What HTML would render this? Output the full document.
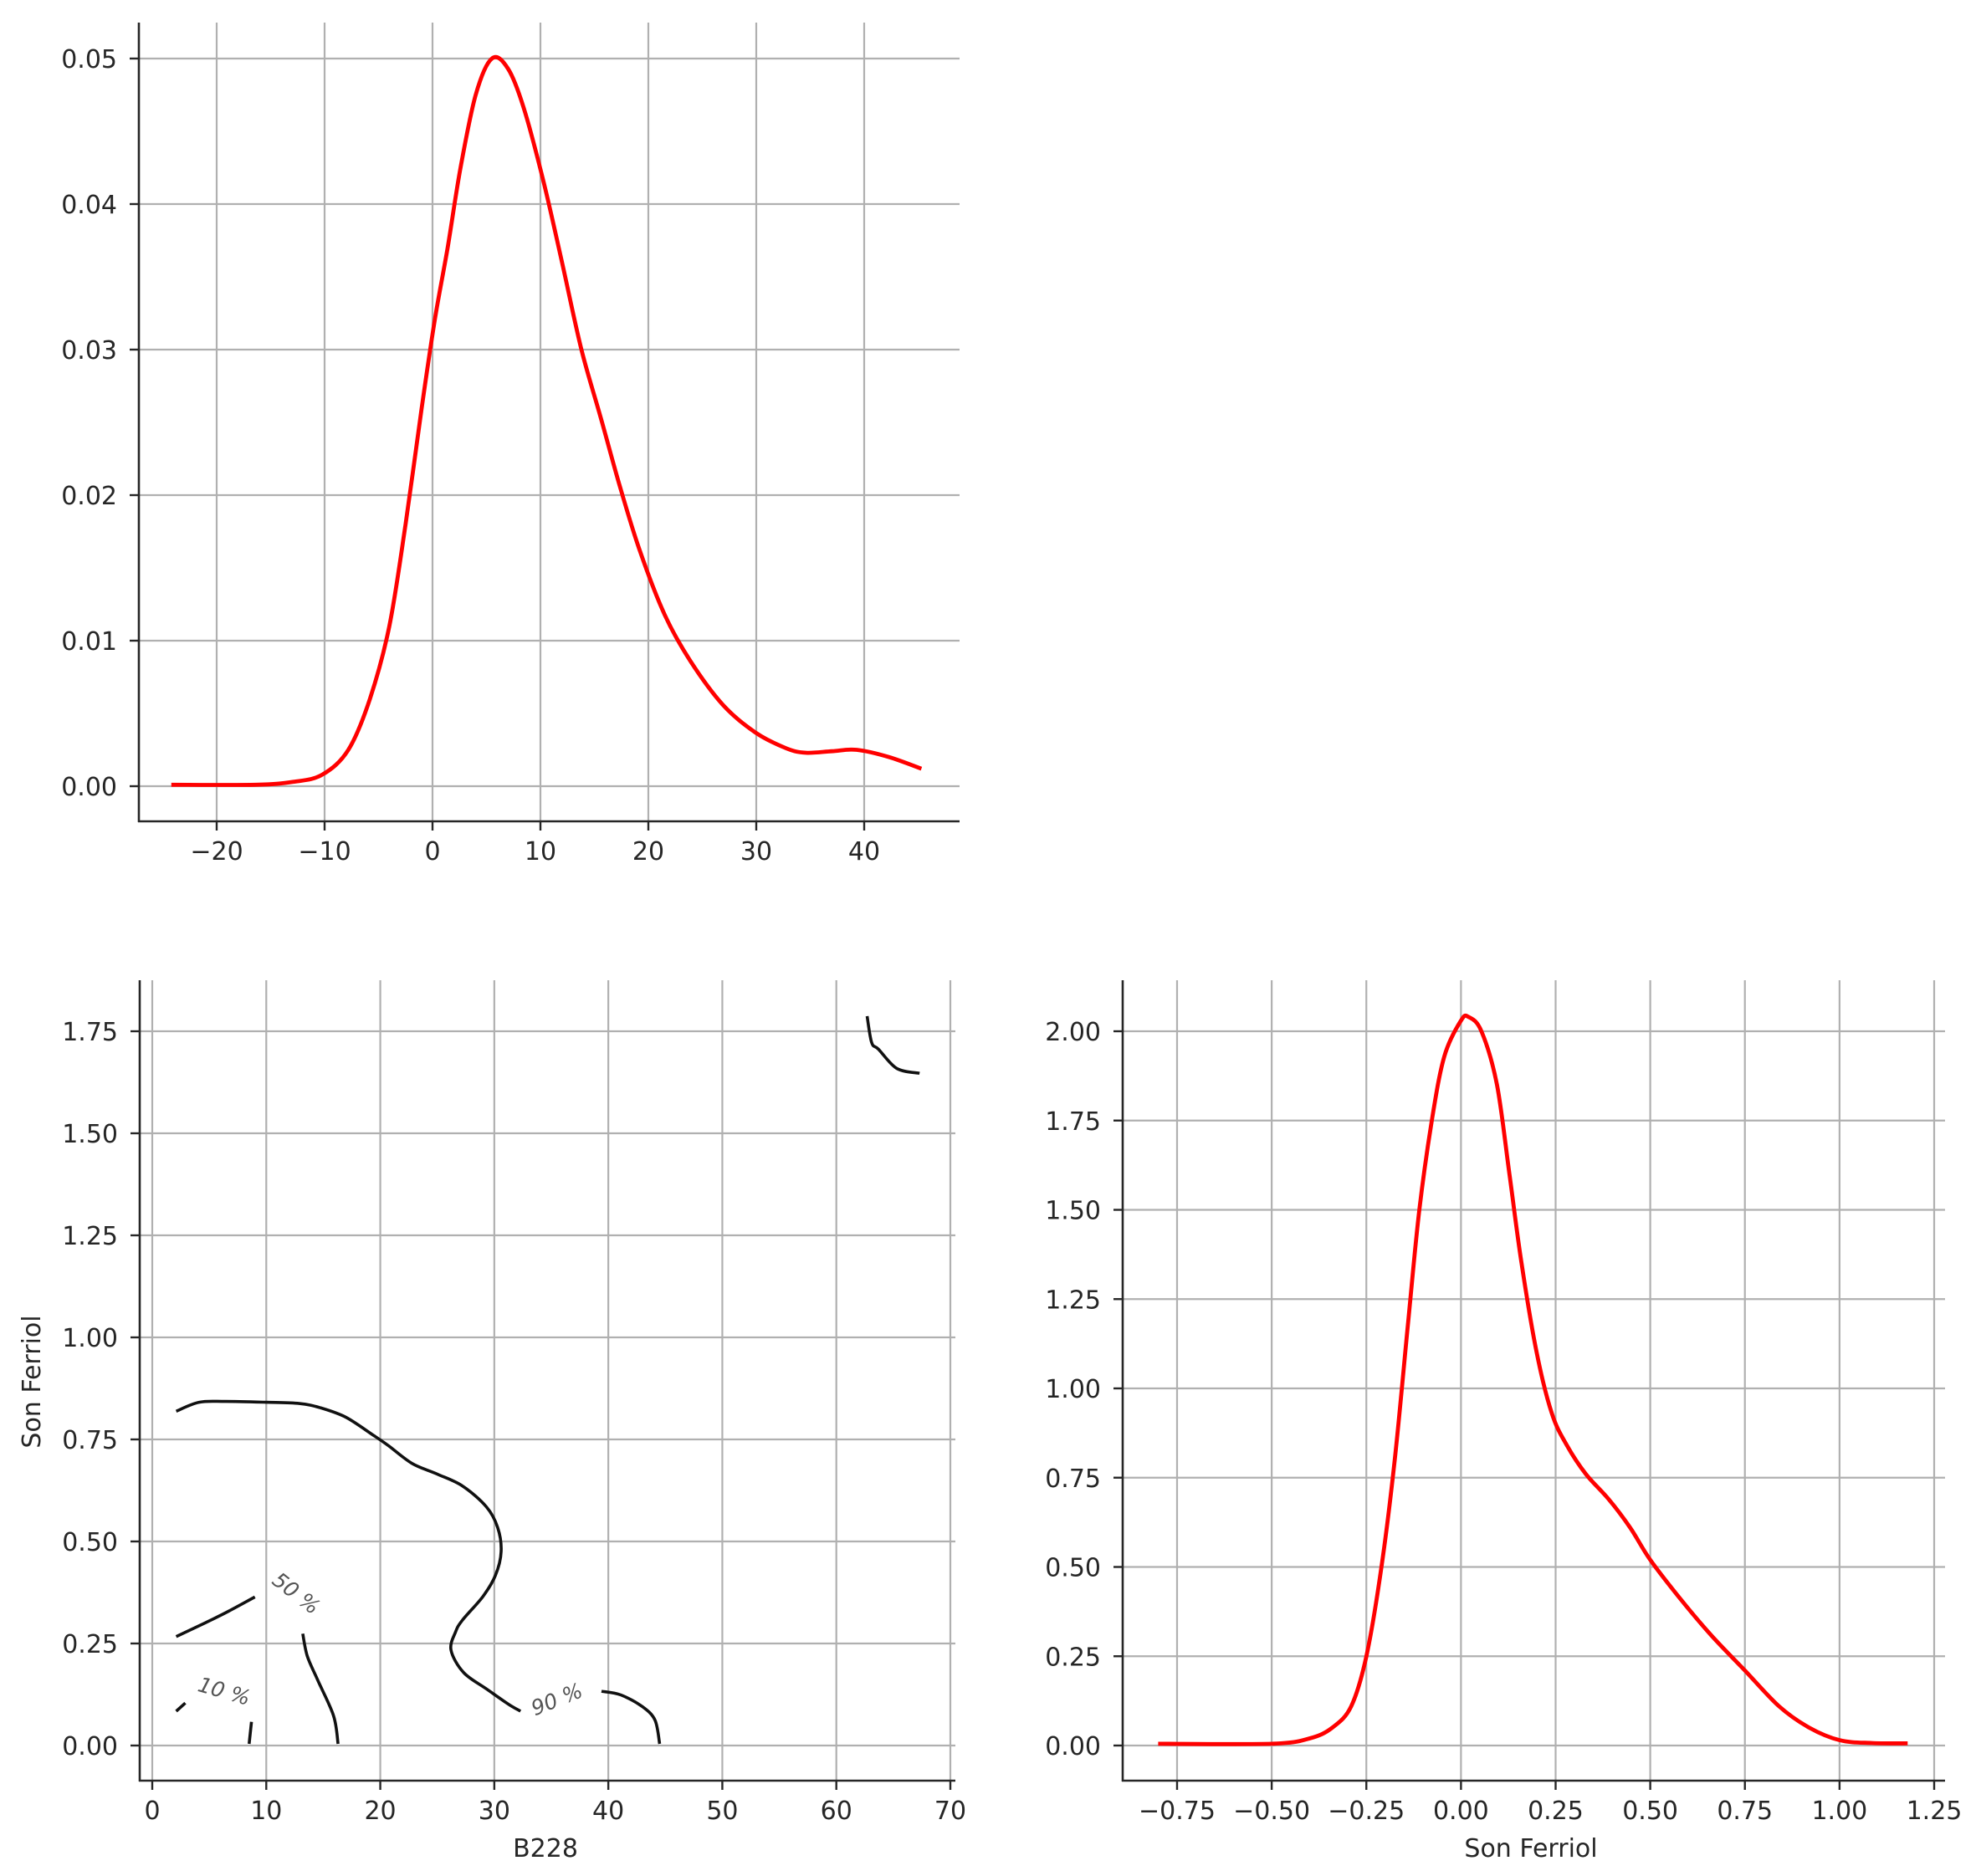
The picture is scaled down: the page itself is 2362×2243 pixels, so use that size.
<!DOCTYPE html>
<html><head><meta charset="utf-8"><style>
html,body{margin:0;padding:0;background:#fff;}
svg{display:block;font-family:"DejaVu Sans","Liberation Sans",sans-serif;}
</style></head><body>
<svg id="fig" width="2362" height="2243" viewBox="0 0 2362 2243" xmlns="http://www.w3.org/2000/svg"></svg>
<script>
// ---- data ----
const topX = [-24.2,-16.4,-12.9,-10.2,-7.8,-5.8,-4.0,-2.5,-1.0,0.2,1.4,2.6,4.0,5.5,7.0,8.5,10.3,12.0,13.8,15.6,17.4,19.2,21.5,23.9,26.9,29.9,32.8,34.6,37.0,39.3,42.3,45.3];
const topY = [0.0001,0.0001,0.0003,0.0008,0.0025,0.006,0.011,0.018,0.026,0.032,0.037,0.0425,0.0475,0.050,0.0493,0.0465,0.0415,0.036,0.030,0.0253,0.0205,0.0162,0.0118,0.0086,0.0056,0.0037,0.0026,0.0023,0.0024,0.0025,0.002,0.0012];
const topXTicks = [-20,-10,0,10,20,30,40];
const topYTicks = [0,0.01,0.02,0.03,0.04,0.05];

const brX = [-0.80,-0.50,-0.40,-0.34,-0.29,-0.25,-0.21,-0.175,-0.14,-0.11,-0.077,-0.044,0.0,0.02,0.054,0.095,0.128,0.16,0.20,0.24,0.28,0.33,0.39,0.447,0.50,0.58,0.66,0.75,0.84,0.92,1.00,1.085,1.18];
const brY = [0.005,0.005,0.02,0.05,0.11,0.25,0.50,0.80,1.18,1.50,1.75,1.93,2.03,2.04,2.00,1.85,1.60,1.35,1.10,0.93,0.84,0.76,0.69,0.61,0.52,0.41,0.31,0.21,0.11,0.05,0.015,0.007,0.006];
const brXTicks = [-0.75,-0.5,-0.25,0,0.25,0.5,0.75,1.0,1.25];
const brYTicks = [0,0.25,0.5,0.75,1.0,1.25,1.5,1.75,2.0];

const blXTicks = [0,10,20,30,40,50,60,70];
const blYTicks = [0,0.25,0.5,0.75,1.0,1.25,1.5,1.75];
const c90aX = [2.1,4.1,6.4,10,12.9,14.8,17.0,19.4,20.7,22.8,25.0,27.2,29.3,30.3,30.6,30.1,29.0,27.2,26.6,26.2,27.3,29.3,31.2,32.3];
const c90aY = [0.819,0.841,0.843,0.841,0.838,0.827,0.804,0.760,0.735,0.691,0.665,0.636,0.585,0.534,0.475,0.417,0.365,0.307,0.278,0.234,0.179,0.139,0.102,0.084];
const c90bX = [39.4,41.1,43.0,44.1,44.5];
const c90bY = [0.133,0.124,0.095,0.062,0.004];
const c90cX = [62.7,63.1,63.7,65.3,67.3];
const c90cY = [1.787,1.722,1.706,1.659,1.647];
const c50aX = [2.1,4.6,6.7,9.0];
const c50aY = [0.267,0.300,0.329,0.364];
const c50bX = [13.2,13.6,14.5,15.9,16.3];
const c50bY = [0.274,0.219,0.161,0.073,0.004];
const c10aX = [2.1,2.9];
const c10aY = [0.084,0.104];
const c10bX = [8.7,8.5];
const c10bY = [0.058,0.004];
const labelText = ["90 %","50 %","10 %"];
const labelX = [35.5,12.6,6.3];
const labelY = [0.112,0.372,0.132];
const labelRot = [-22,38,16];

// ---- helpers ----
const NS = "http://www.w3.org/2000/svg";
const svg = document.getElementById('fig');
function mk(tag, attrs, parent){
  const e = document.createElementNS(NS, tag);
  for (const k in attrs) e.setAttribute(k, attrs[k]);
  (parent||svg).appendChild(e);
  return e;
}
function lin(d0,d1,p0,p1){ return v => p0 + (v-d0)*(p1-p0)/(d1-d0); }

function drawAxes(name, box, sx, sy, xt, yt, xfmt, yfmt){
  const g = mk('g', {});
  
  
  xt.forEach(t => {
    const l = mk('line', {x1:sx(t), x2:sx(t), y1:box.t, y2:box.b, stroke:'#b0b0b0','stroke-width':2.2}, g);
    
    
  });
  yt.forEach(t => {
    const l = mk('line', {x1:box.l, x2:box.r, y1:sy(t), y2:sy(t), stroke:'#b0b0b0','stroke-width':2.2}, g);
    
    
  });
  const ys = mk('line', {x1:box.l, x2:box.l, y1:box.t, y2:box.b+1, stroke:'#262626','stroke-width':2.6}, g);
  
  
  const xs = mk('line', {x1:box.l-1, x2:box.r, y1:box.b, y2:box.b, stroke:'#262626','stroke-width':2.6}, g);
  
  
  xt.forEach(t => {
    mk('line', {x1:sx(t), x2:sx(t), y1:box.b, y2:box.b+11, stroke:'#262626','stroke-width':2.4}, g);
    const tx = mk('text', {x:sx(t), y:box.b+46, 'text-anchor':'middle', 'font-size':30, fill:'#262626'}, g);
    
    
    tx.textContent = xfmt(t);
  });
  yt.forEach(t => {
    mk('line', {x1:box.l-11, x2:box.l, y1:sy(t), y2:sy(t), stroke:'#262626','stroke-width':2.4}, g);
    const tx = mk('text', {x:box.l-26, y:sy(t)+11, 'text-anchor':'end', 'font-size':30, fill:'#262626'}, g);
    
    
    tx.textContent = yfmt(t);
  });
  return g;
}
function fmtMinus(s){ return s.replace('-', '\u2212'); }
function pathFrom(xs, ys, sx, sy){
  const P = xs.map((x,i)=>[sx(x), sy(ys[i])]);
  if (P.length < 3) return P.map((p,i)=>(i?'L':'M')+p[0].toFixed(1)+','+p[1].toFixed(1)).join(' ');
  let d = 'M' + P[0][0].toFixed(1) + ',' + P[0][1].toFixed(1);
  for (let i=0;i<P.length-1;i++){
    const p0 = P[Math.max(0,i-1)], p1 = P[i], p2 = P[i+1], p3 = P[Math.min(P.length-1,i+2)];
    const c1x = p1[0] + (p2[0]-p0[0])/6, c1y = p1[1] + (p2[1]-p0[1])/6;
    const c2x = p2[0] - (p3[0]-p1[0])/6, c2y = p2[1] - (p3[1]-p1[1])/6;
    d += ' C' + c1x.toFixed(1)+','+c1y.toFixed(1)+' '+c2x.toFixed(1)+','+c2y.toFixed(1)+' '+p2[0].toFixed(1)+','+p2[1].toFixed(1);
  }
  return d;
}

// ---- top-left density ----
const tsx = lin(-20, 40, 259, 1033);
const tsy = lin(0, 0.05, 940, 70);
drawAxes('b228-density-axes', {l:166, r:1147, t:27, b:982}, tsx, tsy, topXTicks, topYTicks,
  t => fmtMinus(String(t)), t => t.toFixed(2));
const p1 = mk('path', {d:pathFrom(topX, topY, tsx, tsy), fill:'none', stroke:'#ff0000','stroke-width':4.8,'stroke-linejoin':'round'});



// ---- bottom-right density ----
const rsx = lin(-0.75, 1.25, 1407, 2312);
const rsy = lin(0, 2.0, 2087, 1233);
drawAxes('son-ferriol-density-axes', {l:1342, r:2325, t:1172, b:2129}, rsx, rsy, brXTicks, brYTicks,
  t => fmtMinus(t.toFixed(2)), t => t.toFixed(2));
const p2 = mk('path', {d:pathFrom(brX, brY, rsx, rsy), fill:'none', stroke:'#ff0000','stroke-width':4.8,'stroke-linejoin':'round'});


const xl2 = mk('text', {x:1830, y:2220, 'text-anchor':'middle','font-size':30, fill:'#262626'});


xl2.textContent = 'Son Ferriol';

// ---- bottom-left contour ----
const bsx = lin(0, 70, 182, 1136);
const bsy = lin(0, 1.75, 2087, 1233);
drawAxes('contour-axes', {l:167, r:1142, t:1172, b:2129}, bsx, bsy, blXTicks, blYTicks,
  t => String(t), t => t.toFixed(2));
const segs = [[c90aX,c90aY,'contour-90-main'],[c90bX,c90bY,'contour-90-right'],[c90cX,c90cY,'contour-90-corner'],
  [c50aX,c50aY,'contour-50-left'],[c50bX,c50bY,'contour-50-right'],[c10aX,c10aY,'contour-10-left'],[c10bX,c10bY,'contour-10-right']];
segs.forEach(s => {
  const p = mk('path', {d:pathFrom(s[0], s[1], bsx, bsy), fill:'none', stroke:'#111','stroke-width':3.6,'stroke-linejoin':'round'});
  
  
});
labelText.forEach((t,i) => {
  const x = bsx(labelX[i]), y = bsy(labelY[i]);
  const tx = mk('text', {x:x, y:y+8, 'text-anchor':'middle','font-size':25, fill:'#555','font-style':'italic',
    transform:'rotate(' + labelRot[i] + ' ' + x + ' ' + y + ')'});
  
  
  tx.textContent = t;
});
const xl1 = mk('text', {x:652, y:2220, 'text-anchor':'middle','font-size':30, fill:'#262626'});


xl1.textContent = 'B228';
const yl1 = mk('text', {x:0, y:0, 'text-anchor':'middle','font-size':30, fill:'#262626', transform:'translate(48,1652) rotate(-90)'});


yl1.textContent = 'Son Ferriol';
</script>
</body></html>
